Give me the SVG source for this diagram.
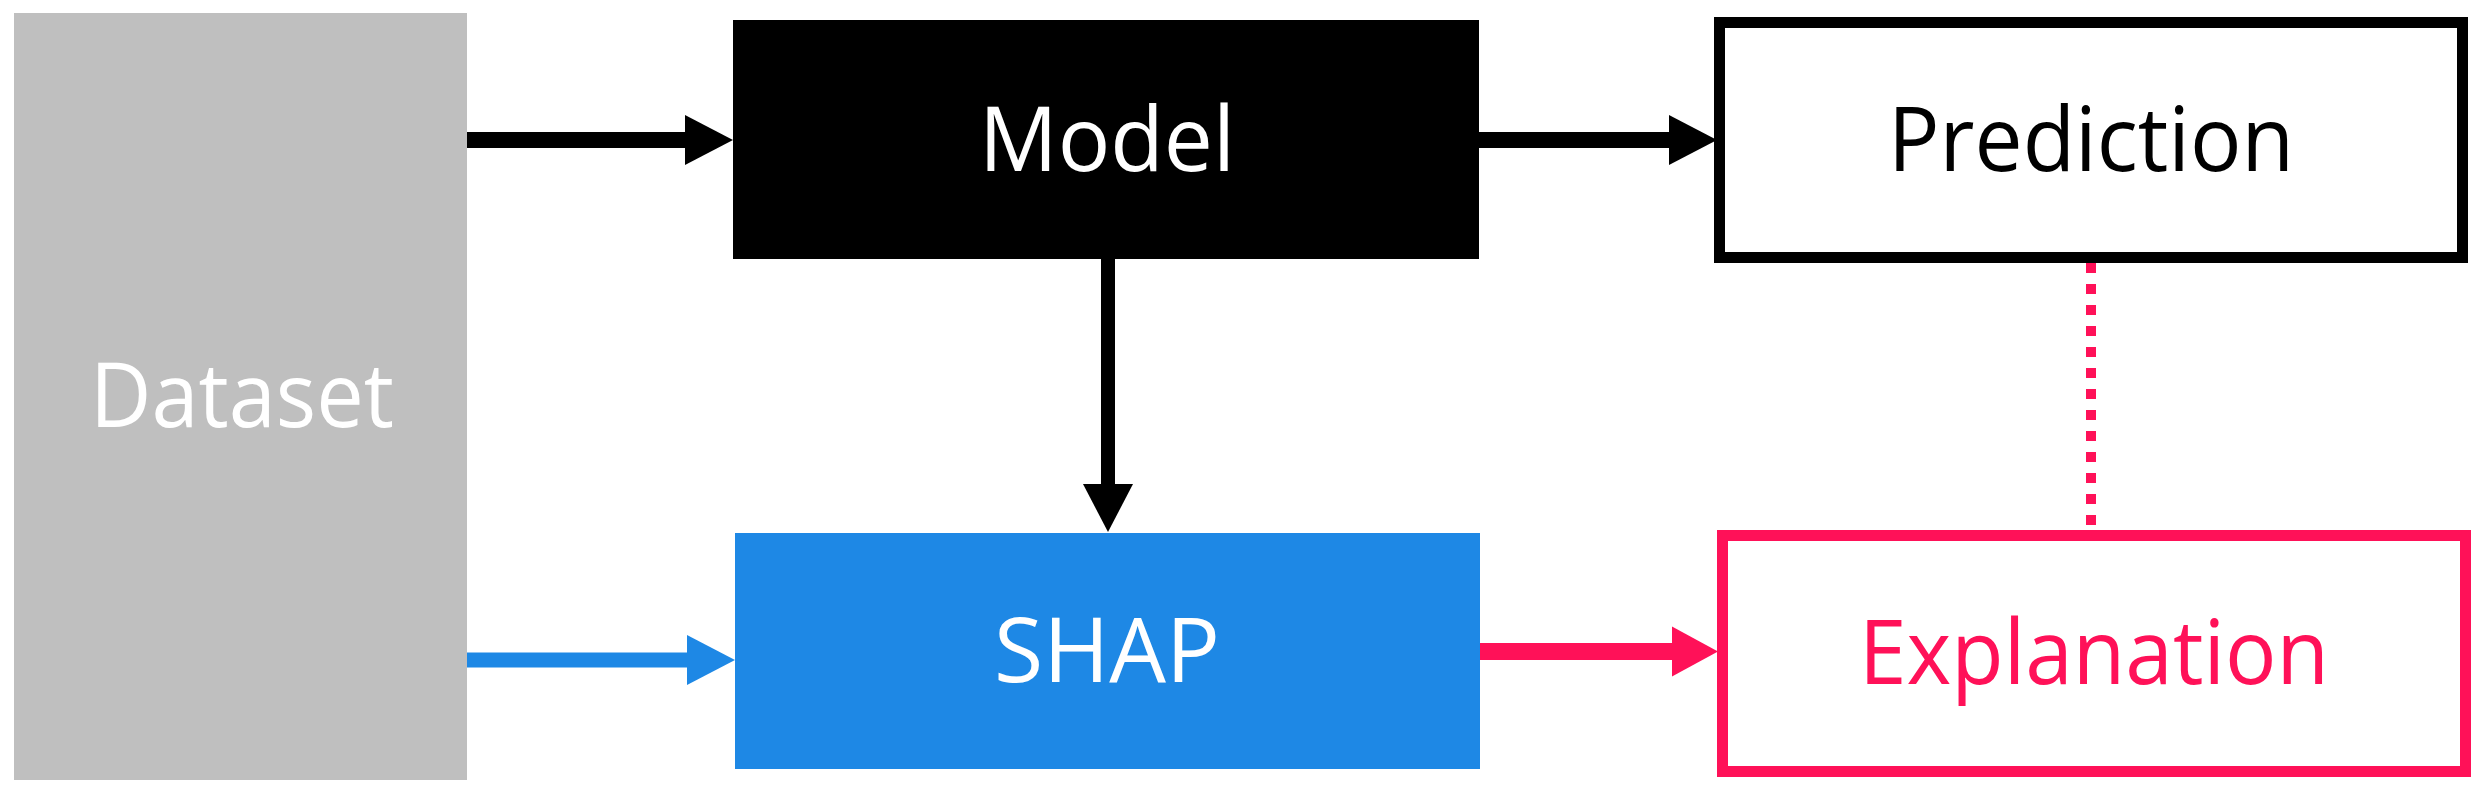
<svg xmlns="http://www.w3.org/2000/svg" width="2487" height="794" viewBox="0 0 2487 794">
  <style>
    .lbl { font-family: "Open Sans", "Noto Sans", "Liberation Sans", sans-serif; font-size: 90px; text-anchor: middle; }
    .conn { fill: none; }
  </style>
  <defs>
    <marker id="ahBlack" markerUnits="userSpaceOnUse" markerWidth="48" markerHeight="50" refX="1" refY="25" orient="auto" overflow="visible">
      <path d="M0,0 L48,25 L0,50 Z" fill="#000000"/>
    </marker>
    <marker id="ahBlue" markerUnits="userSpaceOnUse" markerWidth="48" markerHeight="50" refX="1" refY="25" orient="auto" overflow="visible">
      <path d="M0,0 L48,25 L0,50 Z" fill="#1E88E5"/>
    </marker>
    <marker id="ahPink" markerUnits="userSpaceOnUse" markerWidth="46" markerHeight="50" refX="1" refY="25" orient="auto" overflow="visible">
      <path d="M0,0 L46,25 L0,50 Z" fill="#FF1158"/>
    </marker>
  </defs>
  <rect width="2487" height="794" fill="#FFFFFF"/>

  <g id="connectors">
    <path class="conn" d="M464,140 L686,140" stroke="#000000" stroke-width="16" marker-end="url(#ahBlack)"/>
    <path class="conn" d="M1479,140 L1670,140" stroke="#000000" stroke-width="16" marker-end="url(#ahBlack)"/>
    <path class="conn" d="M1108,259 L1108,485" stroke="#000000" stroke-width="14" marker-end="url(#ahBlack)"/>
    <path class="conn" d="M467,660 L688,660" stroke="#1E88E5" stroke-width="15" marker-end="url(#ahBlue)"/>
    <path class="conn" d="M1480,651.5 L1673,651.5" stroke="#FF1158" stroke-width="17" marker-end="url(#ahPink)"/>
    <path class="conn" d="M2091,263 L2091,530" stroke="#FF1158" stroke-width="10" stroke-dasharray="10 11"/>
  </g>

  <g id="dataset">
    <rect x="14" y="13" width="453" height="767" fill="#BFBFBF"/>
    <text class="lbl" x="242" y="427" fill="#FFFFFF" textLength="304" lengthAdjust="spacingAndGlyphs">Dataset</text>
  </g>

  <g id="model">
    <rect x="733" y="20" width="746" height="239" fill="#000000"/>
    <text class="lbl" x="1107" y="171" fill="#FFFFFF" textLength="256" lengthAdjust="spacingAndGlyphs">Model</text>
  </g>

  <g id="shap">
    <rect x="735" y="533" width="745" height="236" fill="#1E88E5"/>
    <text class="lbl" x="1107" y="682" fill="#FFFFFF" textLength="226" lengthAdjust="spacingAndGlyphs">SHAP</text>
  </g>

  <g id="prediction">
    <rect x="1719.5" y="22.5" width="743" height="235" fill="#FFFFFF" stroke="#000000" stroke-width="11"/>
    <text class="lbl" x="2091" y="171" fill="#000000" textLength="406" lengthAdjust="spacingAndGlyphs">Prediction</text>
  </g>

  <g id="explanation">
    <rect x="1722.5" y="535.5" width="743" height="236" fill="#FFFFFF" stroke="#FF1158" stroke-width="11"/>
    <text class="lbl" x="2094" y="684" fill="#FF1158" textLength="470" lengthAdjust="spacingAndGlyphs">Explanation</text>
  </g>
</svg>
